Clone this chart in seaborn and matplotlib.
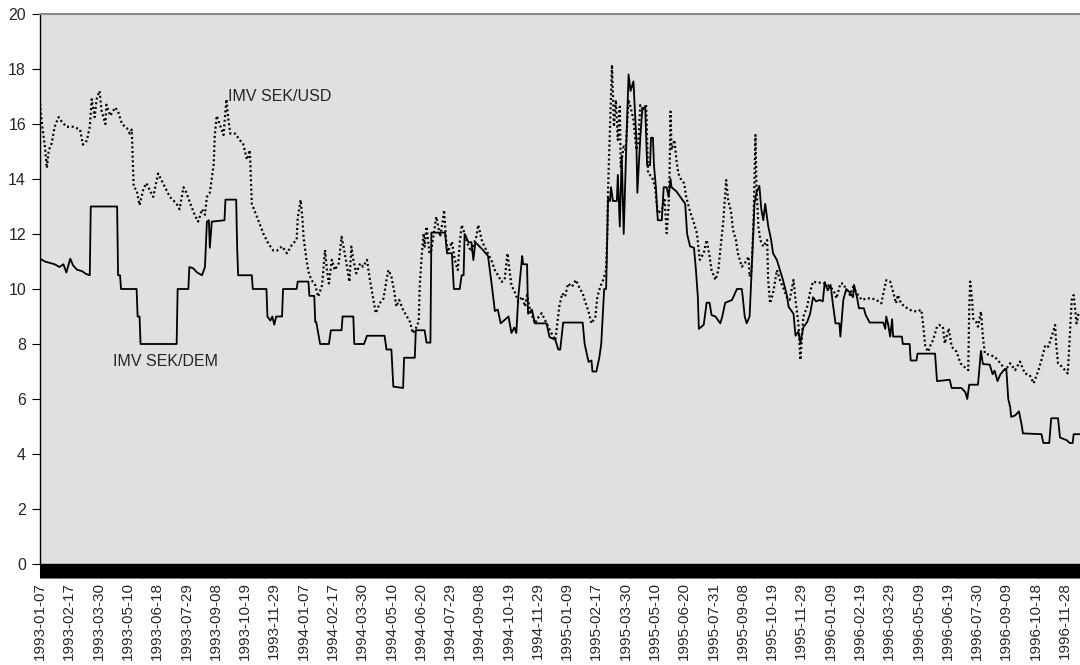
import numpy as np
import matplotlib
matplotlib.use("Agg")
import matplotlib.pyplot as plt
import seaborn as sns

# Category axis: trading days since 1993-01-07, labelled every 30 trading days
tick_labels = [
    "1993-01-07", "1993-02-17", "1993-03-30", "1993-05-10", "1993-06-18", "1993-07-29",
    "1993-09-08", "1993-10-19", "1993-11-29",
    "1994-01-07", "1994-02-17", "1994-03-30", "1994-05-10", "1994-06-20", "1994-07-29",
    "1994-09-08", "1994-10-19", "1994-11-29",
    "1995-01-09", "1995-02-17", "1995-03-30", "1995-05-10", "1995-06-20", "1995-07-31",
    "1995-09-08", "1995-10-19", "1995-11-29",
    "1996-01-09", "1996-02-19", "1996-03-29", "1996-05-09", "1996-06-19", "1996-07-30",
    "1996-09-09", "1996-10-18", "1996-11-28",
]
label_step = 30
n_days = 1066

# IMV SEK/DEM (solid)
dem_day = [0, 5, 10, 15, 20, 24, 27, 31, 34, 38, 43, 47, 51, 52, 79, 80, 82, 83, 99, 100,
           102, 103, 140, 141, 152, 153, 157, 161, 166, 169, 171, 173, 174, 176, 189, 190,
           201, 202, 203, 217, 218, 232, 233, 236, 238, 240, 242, 248, 249, 263, 264, 275,
           276, 281, 282, 283, 287, 296, 298, 309, 310, 321, 322, 332, 335, 353, 355, 360,
           362, 372, 373, 384, 385, 394, 396, 400, 401, 415, 417, 422, 424, 430, 432, 434,
           435, 439, 442, 444, 446, 453, 459, 463, 466, 469, 472, 480, 483, 486, 488, 490,
           494, 495, 499, 500, 504, 507, 519, 522, 528, 531, 533, 536, 556, 558, 562, 565,
           566, 570, 573, 575, 578, 580, 582, 584, 585, 587, 591, 592, 594, 596, 598, 601,
           603, 605, 608, 611, 612, 615, 617, 620, 622, 625, 626, 628, 629, 631, 632, 633,
           637, 639, 642, 644, 646, 647, 652, 657, 661, 663, 666, 670, 672, 674, 675, 680,
           683, 686, 688, 692, 697, 699, 702, 709, 714, 719, 720, 722, 724, 727, 729, 732,
           734, 737, 739, 741, 743, 746, 749, 751, 755, 758, 761, 765, 767, 772, 774, 777,
           779, 782, 786, 789, 792, 795, 799, 802, 804, 807, 810, 812, 815, 819, 820, 823,
           826, 829, 833, 834, 837, 839, 844, 846, 850, 864, 866, 867, 869, 871, 873, 874,
           883, 884, 891, 892, 898, 899, 917, 919, 932, 934, 944, 948, 950, 952, 961, 964,
           966, 973, 976, 978, 981, 984, 987, 990, 992, 994, 995, 999, 1003, 1006, 1007,
           1026, 1028, 1034, 1036, 1043, 1045, 1052, 1055, 1058, 1059, 1065]
dem_val = [11.1, 11.0, 10.95, 10.9, 10.8, 10.9, 10.6, 11.1, 10.85, 10.7, 10.65, 10.55, 10.5,
           13.0, 13.0, 10.5, 10.5, 10.0, 10.0, 9.0, 9.0, 8.0, 8.0, 10.0, 10.0, 10.8, 10.75,
           10.6, 10.5, 10.8, 12.45, 12.5, 11.5, 12.45, 12.5, 13.25, 13.25, 11.5, 10.5, 10.5,
           10.0, 10.0, 9.0, 8.85, 9.0, 8.7, 9.0, 9.0, 10.0, 10.0, 10.27, 10.27, 9.75, 9.75,
           8.8, 8.8, 8.0, 8.0, 8.5, 8.5, 9.0, 9.0, 8.0, 8.0, 8.3, 8.3, 7.8, 7.8, 6.45, 6.4,
           7.5, 7.5, 8.5, 8.5, 8.05, 8.05, 12.05, 12.05, 11.3, 11.3, 10.0, 10.0, 10.5, 10.5,
           12.0, 11.7, 11.7, 11.05, 11.7, 11.45, 11.2, 10.1, 9.2, 9.25, 8.75, 9.0, 8.4, 8.6,
           8.4, 9.7, 11.2, 10.9, 10.9, 9.1, 9.25, 8.75, 8.75, 8.25, 8.15, 7.8, 7.8, 8.78,
           8.78, 8.0, 7.35, 7.4, 7.0, 7.0, 7.5, 8.0, 10.0, 10.0, 13.3, 13.2, 13.7, 13.2, 13.2,
           14.15, 12.27, 14.85, 12.0, 15.6, 17.8, 17.2, 17.55, 15.4, 13.5, 15.5, 16.5, 16.65,
           14.5, 14.5, 15.5, 15.5, 14.5, 13.7, 13.0, 12.5, 12.5, 13.7, 13.7, 13.35, 14.0, 13.7,
           13.55, 13.3, 13.1, 12.0, 11.55, 11.5, 10.7, 9.7, 8.55, 8.7, 9.5, 9.5, 9.05, 9.0,
           8.75, 9.0, 9.5, 9.6, 10.0, 10.0, 9.7, 9.0, 8.75, 9.0, 10.6, 13.1, 13.5, 13.75,
           12.9, 12.5, 13.1, 12.3, 11.8, 11.3, 11.05, 10.7, 10.35, 9.8, 9.35, 9.1, 8.3, 8.45,
           8.05, 8.6, 8.8, 9.1, 9.7, 9.55, 9.6, 9.55, 10.25, 9.95, 10.15, 9.55, 8.75, 8.75,
           8.27, 9.6, 10.0, 9.9, 9.7, 10.15, 9.7, 9.3, 9.3, 9.05, 8.78, 8.78, 8.55, 9.0, 8.7,
           8.27, 8.9, 8.27, 8.27, 8.0, 8.0, 7.4, 7.4, 7.65, 7.65, 6.65, 6.7, 6.4, 6.4, 6.25,
           6.0, 6.52, 6.52, 7.75, 7.27, 7.25, 6.9, 7.03, 6.65, 6.9, 7.03, 7.1, 6.0, 5.7, 5.35,
           5.4, 5.55, 5.0, 4.75, 4.72, 4.4, 4.4, 5.3, 5.3, 4.6, 4.5, 4.4, 4.4, 4.72, 4.72]

# IMV SEK/USD (dotted)
usd_day = [0, 2, 5, 7, 9, 12, 15, 19, 22, 27, 34, 41, 44, 48, 51, 53, 56, 58, 61, 63, 67,
           68, 72, 77, 80, 84, 89, 92, 94, 96, 99, 102, 106, 109, 113, 116, 121, 126, 133,
           140, 143, 147, 150, 154, 159, 162, 166, 169, 171, 174, 178, 179, 181, 184, 188,
           191, 193, 195, 200, 205, 208, 212, 215, 217, 222, 229, 234, 239, 243, 248, 253,
           258, 263, 264, 267, 269, 270, 273, 275, 278, 282, 285, 289, 292, 294, 296, 299,
           302, 306, 309, 311, 314, 317, 319, 321, 324, 328, 331, 335, 338, 341, 344, 348,
           352, 355, 357, 360, 363, 365, 368, 372, 376, 379, 382, 385, 388, 389, 391, 393,
           394, 396, 399, 401, 406, 410, 413, 414, 416, 418, 422, 425, 428, 430, 432, 435,
           439, 442, 447, 449, 453, 458, 463, 466, 470, 473, 476, 479, 481, 483, 487, 490,
           494, 497, 499, 502, 507, 511, 514, 519, 524, 528, 532, 535, 538, 541, 545, 549,
           553, 556, 558, 562, 565, 569, 571, 574, 577, 580, 581, 582, 583, 585, 586, 588,
           590, 592, 594, 595, 598, 600, 603, 605, 608, 611, 613, 615, 618, 621, 623, 627,
           630, 633, 637, 640, 642, 644, 645, 646, 647, 650, 652, 654, 657, 660, 662, 666,
           669, 673, 676, 680, 683, 686, 688, 692, 695, 697, 700, 703, 705, 708, 710, 713,
           715, 719, 722, 726, 727, 729, 731, 733, 734, 736, 738, 741, 745, 746, 748, 751,
           755, 758, 761, 765, 768, 772, 774, 777, 779, 782, 786, 789, 792, 797, 802, 807,
           813, 816, 820, 823, 826, 830, 833, 837, 842, 847, 852, 857, 862, 864, 867, 871,
           874, 877, 879, 882, 886, 891, 898, 903, 905, 907, 910, 913, 915, 919, 921, 925,
           927, 931, 934, 939, 943, 947, 951, 952, 953, 955, 956, 959, 961, 964, 966, 968,
           973, 978, 984, 989, 994, 999, 1004, 1009, 1014, 1018, 1023, 1026, 1030, 1033,
           1037, 1040, 1041, 1043, 1047, 1050, 1053, 1055, 1057, 1059, 1062, 1064]
usd_val = [16.75, 16.0, 15.2, 14.4, 15.05, 15.3, 15.9, 16.25, 16.1, 15.9, 15.9, 15.8, 15.25,
           15.4, 15.9, 16.9, 16.25, 16.9, 17.2, 16.5, 16.0, 16.7, 16.3, 16.6, 16.45, 16.0,
           15.85, 15.65, 15.8, 13.7, 13.6, 13.05, 13.65, 13.85, 13.55, 13.35, 14.2, 13.85,
           13.35, 13.1, 12.9, 13.7, 13.5, 13.1, 12.65, 12.45, 12.9, 12.7, 13.35, 13.5, 14.55,
           15.55, 16.3, 16.0, 15.6, 16.9, 16.15, 15.65, 15.65, 15.4, 15.3, 14.7, 15.05, 13.1,
           12.65, 12.0, 11.65, 11.4, 11.4, 11.55, 11.3, 11.6, 11.8, 12.57, 13.24, 12.5, 11.9,
           11.06, 10.63, 10.33, 10.14, 9.72, 10.14, 11.42, 10.69, 10.2, 11.06, 10.69, 10.93,
           11.9, 11.54, 10.93, 10.26, 11.54, 11.06, 10.57, 10.93, 10.81, 11.06, 10.33, 9.72,
           9.12, 9.48, 9.66, 10.33, 10.69, 10.45, 9.9, 9.36, 9.6, 9.24, 8.99, 8.81, 8.39,
           8.57, 8.81, 10.08, 11.18, 12.02, 11.54, 12.27, 11.3, 11.42, 12.63, 11.9, 12.57,
           12.87, 11.78, 11.36, 11.72, 11.06, 10.69, 11.66, 12.33, 12.02, 11.54, 11.36, 11.9,
           12.33, 11.72, 11.36, 11.0, 10.69, 10.45, 10.26, 10.33, 11.3, 10.69, 10.14, 9.84,
           9.54, 9.72, 9.36, 9.78, 9.24, 8.75, 8.99, 9.12, 8.75, 8.39, 8.14, 9.36, 9.84, 9.72,
           10.2, 10.08, 10.33, 10.02, 9.84, 9.6, 9.18, 8.75, 8.99, 9.72, 10.08, 10.33, 10.69,
           11.78, 13.6, 14.8, 17.0, 18.15, 15.9, 16.87, 15.42, 16.63, 14.45, 15.18, 15.06,
           16.87, 16.63, 16.15, 15.06, 15.3, 16.69, 16.5, 16.69, 14.2, 14.08, 13.72, 12.75,
           12.87, 13.24, 12.03, 12.99, 14.2, 16.45, 15.06, 15.42, 14.69, 14.2, 13.96, 13.84,
           13.36, 12.81, 12.51, 12.03, 11.06, 11.3, 11.78, 11.18, 10.69, 10.33, 10.69, 11.42,
           12.45, 13.96, 13.24, 12.81, 12.15, 11.78, 11.3, 10.81, 10.93, 11.18, 10.45, 10.69,
           12.39, 15.6, 13.84, 12.27, 11.78, 11.54, 11.78, 10.33, 9.48, 9.84, 10.69, 10.33,
           10.08, 9.72, 9.6, 10.33, 9.6, 8.75, 7.42, 8.99, 9.36, 9.9, 10.27, 10.23, 10.23,
           10.14, 9.96, 9.66, 10.2, 10.2, 9.96, 9.78, 10.08, 9.84, 9.6, 9.66, 9.66, 9.6, 9.48,
           9.84, 10.32, 10.27, 9.9, 9.48, 9.78, 9.48, 9.36, 9.24, 9.18, 9.24, 8.63, 7.9, 7.72,
           8.02, 8.14, 8.63, 8.69, 8.63, 8.02, 8.57, 7.9, 7.72, 7.3, 7.17, 7.05, 9.24, 10.27,
           9.6, 8.93, 8.81, 8.63, 9.18, 8.27, 7.66, 7.6, 7.54, 7.3, 7.05, 7.3, 7.05, 7.36,
           6.93, 6.87, 6.57, 7.05, 7.42, 7.96, 7.9, 8.33, 8.69, 8.02, 7.3, 7.17, 7.05, 6.93,
           8.27, 9.6, 9.78, 8.75, 9.11]

sns.set_style("white")
plt.rcParams['font.family'] = ['Liberation Sans', 'DejaVu Sans']

W, H = 1080, 665
fig = plt.figure(figsize=(W / 100, H / 100), dpi=100)
ax = fig.add_axes([40 / W, 1 - 564 / H, 1040 / W, 550 / H])
ax.set_facecolor('#e0e0e0')

sns.lineplot(x=usd_day, y=usd_val, ax=ax, color='black', linewidth=1.6,
             linestyle=(0, (0.9, 1.2)), estimator=None, sort=False)
sns.lineplot(x=dem_day, y=dem_val, ax=ax, color='black', linewidth=1.3,
             estimator=None, sort=False)

ax.set_xlim(0, n_days - 0.5)
ax.set_ylim(0, 20)
ax.set_yticks(range(0, 21, 2))
ax.set_yticklabels([str(v) for v in range(0, 21, 2)], fontsize=11.5)

major = np.arange(len(tick_labels)) * label_step
ax.set_xticks(major)
ax.set_xticklabels(tick_labels, rotation=90, fontsize=11)
ax.set_xticks(np.arange(n_days), minor=True)
ax.tick_params(axis='x', which='both', direction='out', length=10, width=0.75,
               color='black', pad=3, bottom=True)
ax.tick_params(axis='y', direction='out', length=6, width=0.8, color='black',
               pad=4, left=True)
ax.set_xlabel('')
ax.set_ylabel('')
ax.grid(False)

for s in ['left', 'bottom']:
    ax.spines[s].set_color('black')
    ax.spines[s].set_linewidth(1.0)
ax.spines['top'].set_color('#8c8c8c')
ax.spines['top'].set_linewidth(1.5)
ax.spines['right'].set_visible(False)

ax.text(193, 17.0, 'IMV SEK/USD', fontsize=11.5, ha='left', va='center')
ax.text(75, 7.35, 'IMV SEK/DEM', fontsize=11.5, ha='left', va='center')

fig.savefig('out.png', dpi=100, facecolor='white')
